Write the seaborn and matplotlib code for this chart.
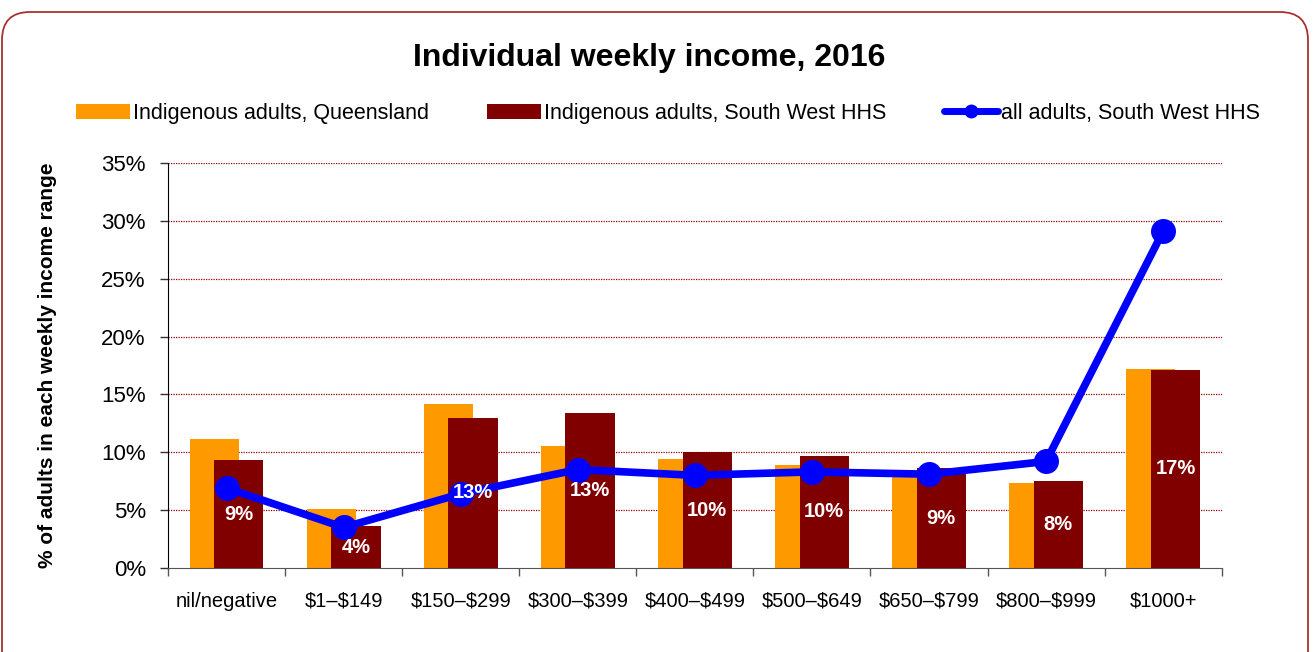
import numpy as np
import pandas as pd
import seaborn as sns
import matplotlib.pyplot as plt
from matplotlib.lines import Line2D
from matplotlib.patches import Patch, FancyBboxPatch

# income ranges (display labels, $ escaped for matplotlib)
categories = ['nil/negative', '\\$1–\\$149', '\\$150–\\$299', '\\$300–\\$399', '\\$400–\\$499',
              '\\$500–\\$649', '\\$650–\\$799', '\\$800–\\$999', '\\$1000+']

# % of adults in each range
qld_indigenous = [11.1, 5.1, 14.2, 10.5, 9.4, 8.9, 8.1, 7.3, 17.2]
swhhs_indigenous = [9.3, 3.6, 13.0, 13.4, 10.0, 9.7, 8.6, 7.5, 17.1]
swhhs_all = [6.9, 3.5, 6.4, 8.5, 8.0, 8.3, 8.1, 9.2, 29.1]

series_names = ['Indigenous adults, Queensland', 'Indigenous adults, South West HHS',
                'all adults, South West HHS']

orange = '#FF9900'
maroon = '#800000'
blue = '#0000FF'

sns.set_style('white')
plt.rcParams['font.family'] = ['Liberation Sans', 'DejaVu Sans']
plt.rcParams['text.color'] = 'black'
plt.rcParams['xtick.color'] = 'black'
plt.rcParams['ytick.color'] = 'black'

fig = plt.figure(figsize=(13.15, 6.52), dpi=100)
ax = fig.add_axes([0.1278, 0.129, 0.8012, 0.621])

pos = np.arange(len(categories))
shift = 0.105
df_q = pd.DataFrame({'x': pos - shift, 'y': qld_indigenous})
df_s = pd.DataFrame({'x': pos + shift, 'y': swhhs_indigenous})
df_a = pd.DataFrame({'x': pos, 'y': swhhs_all})

sns.barplot(data=df_q, x='x', y='y', native_scale=True, width=0.42, color=orange,
            saturation=1, linewidth=0, ax=ax, zorder=2)
sns.barplot(data=df_s, x='x', y='y', native_scale=True, width=0.42, color=maroon,
            saturation=1, linewidth=0, ax=ax, zorder=3)
sns.lineplot(data=df_a, x='x', y='y', color=blue, linewidth=5.5, marker='o',
             markersize=18, markeredgewidth=0, ax=ax, zorder=4)

# value labels for South West HHS indigenous bars, centred in the bar
for xi, v in zip(pos, swhhs_indigenous):
    ax.text(xi + shift, v / 2, f'{v:.0f}%', ha='center', va='center', color='white',
            fontsize=14.5, fontweight='bold', zorder=5)

ax.set_xlim(-0.5, len(categories) - 0.5)
ax.set_ylim(0, 35)
ax.set_yticks(np.arange(0, 36, 5))
ax.set_yticklabels([f'{t}%' for t in range(0, 36, 5)], fontsize=16)
ax.set_xticks(pos)
ax.set_xticklabels(categories, fontsize=14.5)
ax.set_xticks(np.arange(-0.5, len(categories), 1), minor=True)
ax.tick_params(axis='x', which='major', length=0, pad=17)
ax.tick_params(axis='x', which='minor', length=6, width=1, color='#555555', bottom=True)
ax.tick_params(axis='y', length=6, width=1, color='#333333', pad=10, left=True)
ax.set_xlabel('')
ax.set_ylabel('')

for yv in range(5, 36, 5):
    ax.axhline(yv, color='#990000', linestyle=(0, (1, 1)), linewidth=0.9, zorder=1)

for side in ['top', 'right']:
    ax.spines[side].set_visible(False)
ax.spines['left'].set_color('black')
ax.spines['bottom'].set_color('#555555')

fig.text(0.036, 0.44, '% of adults in each weekly income range', rotation=90,
         ha='center', va='center', fontsize=15, fontweight='bold')
fig.text(0.494, 0.911, 'Individual weekly income, 2016', ha='center', va='center',
         fontsize=23, fontweight='bold')

handles = [Patch(facecolor=orange, edgecolor='none'),
           Patch(facecolor=maroon, edgecolor='none'),
           Line2D([], [], color=blue, linewidth=5, marker='o', markersize=9)]
fig.legend(handles, series_names, loc='center', bbox_to_anchor=(0.508, 0.826), ncol=3,
           frameon=False, fontsize=15.5, handlelength=2.5, handleheight=0.7,
           handletextpad=0.15, columnspacing=2.68)

# rounded outer border
border = FancyBboxPatch((2, -30), 1306, 670, boxstyle='round,pad=0,rounding_size=28',
                        transform=None, facecolor='none', edgecolor='#A83232',
                        linewidth=1.3, figure=fig)
fig.patches.append(border)

fig.savefig('out.png', dpi=100)
